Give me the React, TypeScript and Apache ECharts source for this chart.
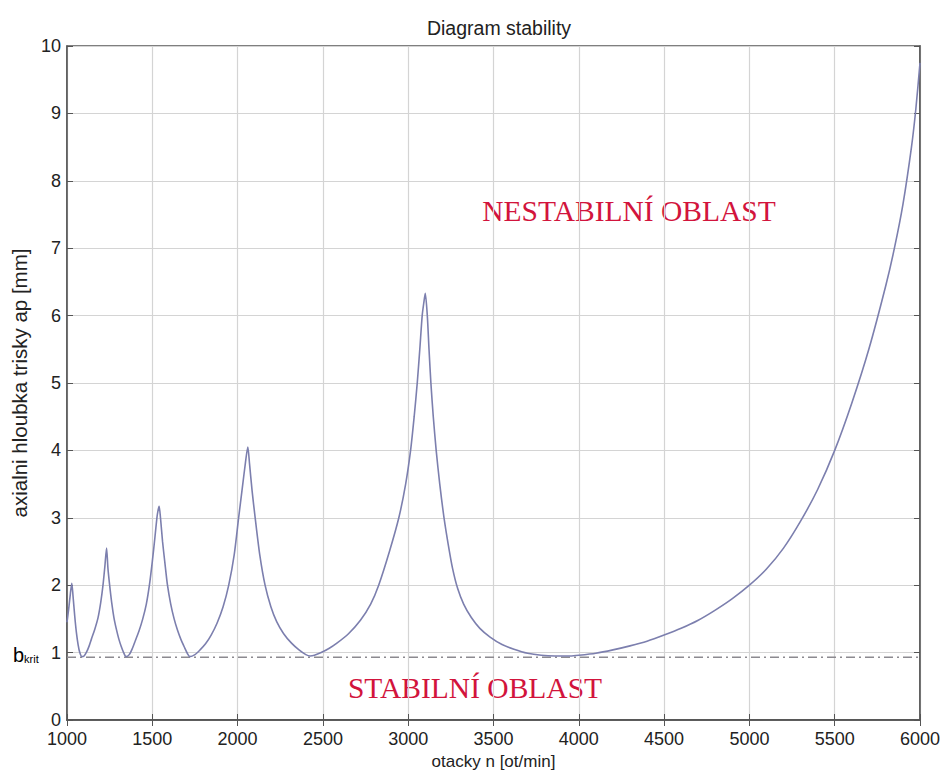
import React, { useEffect, useRef } from "react";
import * as echarts from "echarts";

const titleText = "Diagram stability";
const xAxisName = "otacky n [ot/min]";
const yAxisName = "axialni hloubka trisky ap [mm]";
const unstableLabel = "NESTABILNÍ OBLAST";
const stableLabel = "STABILNÍ OBLAST";
const bKrit = 0.93;

const lobe1: [number, number][] = [
  [1000, 1.45], [1010, 1.65], [1020, 1.88], [1028, 2.03], [1035, 1.85], [1045, 1.55],
  [1055, 1.3], [1065, 1.12], [1075, 1.0], [1087, 0.94],
];
const lobe2: [number, number][] = [
  [1100, 0.95], [1115, 1.01], [1130, 1.1], [1143, 1.2], [1162, 1.34], [1182, 1.52],
  [1198, 1.75], [1211, 2.0], [1222, 2.28], [1232, 2.55], [1240, 2.25], [1250, 2.0],
  [1262, 1.74], [1275, 1.52], [1290, 1.34], [1304, 1.2], [1318, 1.09], [1332, 1.0], [1346, 0.94],
];
const lobe3: [number, number][] = [
  [1365, 0.97], [1383, 1.06], [1401, 1.18], [1422, 1.32], [1444, 1.5], [1465, 1.72],
  [1483, 2.0], [1500, 2.35], [1515, 2.7], [1527, 3.0], [1533, 3.1], [1540, 3.17],
  [1548, 3.0], [1560, 2.65], [1573, 2.35], [1589, 2.0], [1608, 1.72], [1628, 1.5],
  [1648, 1.33], [1667, 1.2], [1690, 1.07], [1705, 0.99], [1720, 0.94],
];
const lobe4: [number, number][] = [
  [1750, 0.97], [1780, 1.04], [1812, 1.13], [1845, 1.26], [1880, 1.44], [1915, 1.68],
  [1948, 2.0], [1980, 2.45], [2006, 3.0], [2028, 3.45], [2046, 3.82], [2060, 4.05],
  [2070, 3.8], [2085, 3.4], [2103, 3.0], [2130, 2.45], [2161, 2.0], [2195, 1.68],
  [2229, 1.46], [2270, 1.28], [2316, 1.14], [2360, 1.04], [2400, 0.97], [2425, 0.95],
];
const lobe5: [number, number][] = [
  [2450, 0.96], [2490, 1.0], [2535, 1.06], [2582, 1.14], [2650, 1.28], [2720, 1.48],
  [2780, 1.72], [2827, 2.0], [2890, 2.5], [2945, 3.0], [2985, 3.5], [3014, 4.0],
  [3035, 4.5], [3053, 5.0], [3068, 5.5], [3082, 6.0], [3092, 6.2], [3100, 6.33],
  [3112, 6.0], [3122, 5.5], [3133, 5.0], [3147, 4.5], [3164, 4.0], [3185, 3.5],
  [3210, 3.0], [3235, 2.6], [3260, 2.25], [3290, 1.95], [3325, 1.72], [3370, 1.52],
  [3420, 1.36], [3480, 1.23], [3550, 1.12], [3620, 1.05], [3700, 0.99], [3780, 0.96],
  [3860, 0.95], [3950, 0.95],
];
const tail: [number, number][] = [
  [4000, 0.96], [4100, 0.99], [4200, 1.04], [4300, 1.1], [4400, 1.17], [4500, 1.26],
  [4600, 1.36], [4700, 1.48], [4800, 1.63], [4900, 1.8], [5000, 2.0], [5100, 2.24],
  [5200, 2.55], [5300, 2.95], [5400, 3.42], [5500, 4.0], [5600, 4.7], [5700, 5.5],
  [5800, 6.45], [5850, 7.0], [5900, 7.65], [5950, 8.5], [5975, 9.05], [6000, 9.75],
];
const bKritLine: [number, number][] = [[1000, bKrit], [6000, bKrit]];

export default function App() {
  const ref = useRef<HTMLDivElement>(null);
  useEffect(() => {
    if (!ref.current) return;
    const chart = echarts.init(ref.current, null, { renderer: "svg" });
    const curve = [...lobe1, ...lobe2, ...lobe3, ...lobe4, ...lobe5, ...tail];
    const axisColor = "#555";
    const font = "Liberation Sans, Arial, sans-serif";
    const labelStyle = { color: "#222", fontSize: 18, fontFamily: font };
    chart.setOption({
      animation: false,
      backgroundColor: "#fff",
      title: {
        text: titleText,
        left: 494,
        top: 13,
        textAlign: "center",
        textStyle: { fontSize: 19.5, fontWeight: "normal", color: "#222", fontFamily: font },
      },
      grid: {
        left: 67, right: 26, top: 46, bottom: 51, show: true,
        borderColor: axisColor, borderWidth: 1.5, backgroundColor: "transparent",
        outerBoundsMode: "none", containLabel: false,
      },
      xAxis: [
        {
          type: "value", min: 1000, max: 6000, interval: 500,
          name: xAxisName, nameLocation: "middle", nameGap: 28,
          nameTextStyle: { ...labelStyle, fontSize: 17, lineHeight: 17 },
          axisLine: { lineStyle: { color: axisColor, width: 1.5 } },
          axisTick: { inside: true, length: 6, lineStyle: { color: axisColor } },
          axisLabel: { ...labelStyle, margin: 10, formatter: (v: number) => String(v) },
          splitLine: { show: true, lineStyle: { color: "#d4d4d4", width: 1.2 } },
        },
        {
          type: "value", min: 1000, max: 6000, interval: 500, position: "top",
          axisLine: { lineStyle: { color: axisColor, width: 1.5 } },
          axisTick: { inside: true, length: 6, lineStyle: { color: axisColor } },
          axisLabel: { show: false }, splitLine: { show: false },
        },
      ],
      yAxis: [
        {
          type: "value", min: 0, max: 10, interval: 1,
          name: yAxisName, nameLocation: "middle", nameGap: 34, nameRotate: 90,
          nameTextStyle: { ...labelStyle, fontSize: 20.5 },
          axisLine: { lineStyle: { color: axisColor, width: 1.5 } },
          axisTick: { inside: true, length: 6, lineStyle: { color: axisColor } },
          axisLabel: { ...labelStyle, margin: 6 },
          splitLine: { show: true, lineStyle: { color: "#d4d4d4", width: 1.2 } },
        },
        {
          type: "value", min: 0, max: 10, interval: 1, position: "right",
          axisLine: { lineStyle: { color: axisColor, width: 1.5 } },
          axisTick: { inside: true, length: 6, lineStyle: { color: axisColor } },
          axisLabel: { show: false }, splitLine: { show: false },
        },
      ],
      series: [
        {
          name: "bkrit", type: "line", data: bKritLine, symbol: "none",
          lineStyle: { color: "#8c8a90", width: 1.5, type: [9, 4, 2, 4] },
          silent: true,
        },
        {
          name: "ap", type: "line", data: curve, symbol: "none",
          smooth: 0.25,
          lineStyle: { color: "#7c7fae", width: 1.6 },
        },
      ],
      graphic: [
        {
          type: "text", left: 13, top: 645,
          style: {
            text: "{b|b}{s|krit}",
            rich: {
              b: { fontSize: 20, color: "#222", fontFamily: font },
              s: { fontSize: 11, color: "#222", fontFamily: font, padding: [8, 0, 0, 0] },
            },
          },
        },
        {
          type: "text", x: 629, y: 211,
          style: { text: unstableLabel, fill: "#d2143c", fontSize: 29.5, fontFamily: "Liberation Serif, Times New Roman, serif", align: "center", verticalAlign: "middle" },
        },
        {
          type: "text", x: 475, y: 688,
          style: { text: stableLabel, fill: "#d2143c", fontSize: 29.5, fontFamily: "Liberation Serif, Times New Roman, serif", align: "center", verticalAlign: "middle" },
        },
      ],
    });
    return () => chart.dispose();
  }, []);
  return <div ref={ref} style={{ width: 946, height: 771, position: "absolute", left: 0, top: 0 }} />;
}
